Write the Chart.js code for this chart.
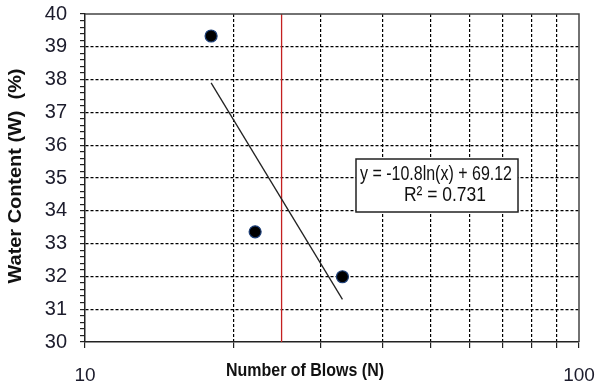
<!DOCTYPE html>
<html>
<head>
<meta charset="utf-8">
<script src="https://cdn.jsdelivr.net/npm/chart.js@4"></script>
<style>
  html, body { margin: 0; padding: 0; background: #fff; }
  #wrap { width: 595px; height: 387px; }
</style>
</head>
<body>
<div id="wrap"><canvas id="chart" width="595" height="387"></canvas></div>
<script>
// data
const blows = [18.0, 22.1, 33.2];
const waterContent = [39.33, 33.36, 31.99];
// trend line ends (y = -10.8ln(x) + 69.12)
const trendX = [18.0, 33.2];
const trendY = [37.9, 31.3];
// 25 blows marker
const refX = [25, 25];
const refY = [30, 40];
const xGridValues = [10, 20, 30, 40, 50, 60, 70, 80, 90, 100];
const xTickLabels = [10, 100];
const trendText = ['y = -10.8ln(x) + 69.12', 'R² = 0.731'];

const toPoints = (xs, ys) => xs.map((x, i) => ({ x: x, y: ys[i] }));
const isWhole = v => Math.abs(v - Math.round(v)) < 1e-6;

// draws text squeezed horizontally (the original uses a narrow font)
function narrowText(ctx, text, x, y, fontSize, weight, width, rotate) {
  ctx.save();
  ctx.font = weight + ' ' + fontSize + 'px "Liberation Sans", Arial, sans-serif';
  const w = ctx.measureText(text).width;
  ctx.translate(x, y);
  if (rotate) ctx.rotate(-Math.PI / 2);
  ctx.scale(width / w, 1);
  ctx.textAlign = 'center';
  ctx.textBaseline = 'middle';
  ctx.fillStyle = '#111';
  ctx.fillText(text, 0, 0);
  ctx.restore();
}

// keep label overhang from pushing the plot area around
function noOverhang(s) {
  s.paddingTop = 0;
  s.paddingBottom = 0;
  s.paddingLeft = 0;
  s.paddingRight = 0;
}

const extras = {
  id: 'extras',
  afterDatasetsDraw(chart) {
    const ctx = chart.ctx;
    const a = chart.chartArea;
    // plot frame
    ctx.save();
    ctx.strokeStyle = '#444';
    ctx.lineWidth = 1.5;
    ctx.beginPath();
    ctx.moveTo(a.left, a.top);
    ctx.lineTo(a.right, a.top);
    ctx.lineTo(a.right, a.bottom);
    ctx.stroke();
    ctx.restore();

    // equation box
    const bx = 356, by = 159, bw = 162, bh = 53;
    ctx.save();
    ctx.fillStyle = '#fff';
    ctx.fillRect(bx, by, bw, bh);
    ctx.strokeStyle = '#222';
    ctx.lineWidth = 1.5;
    ctx.strokeRect(bx, by, bw, bh);
    ctx.restore();
    narrowText(ctx, trendText[0], bx + 80, by + 15, 20, 'normal', 152, false);
    narrowText(ctx, trendText[1], bx + 89, by + 36, 20, 'normal', 82, false);

    // axis titles
    narrowText(ctx, 'Number of Blows (N)', 305, 371, 19, 'bold', 158, false);
    narrowText(ctx, 'Water Content (W)  (%)', 16, 176, 18, 'bold', 215, true);
  }
};

new Chart(document.getElementById('chart'), {
  type: 'scatter',
  data: {
    datasets: [
      {
        label: 'trend',
        data: toPoints(trendX, trendY),
        showLine: true,
        borderColor: '#222',
        borderWidth: 1.3,
        pointRadius: 0,
        order: 2
      },
      {
        label: 'N = 25',
        data: toPoints(refX, refY),
        showLine: true,
        borderColor: '#c42020',
        borderWidth: 1.3,
        pointRadius: 0,
        order: 3
      },
      {
        label: 'data',
        data: toPoints(blows, waterContent),
        pointRadius: 6,
        pointBackgroundColor: '#000',
        pointBorderColor: '#1d3f78',
        pointBorderWidth: 1.2,
        order: 1
      }
    ]
  },
  options: {
    responsive: false,
    animation: false,
    layout: { padding: { top: 14, right: 16, left: 0, bottom: 0 } },
    plugins: {
      legend: { display: false },
      tooltip: { enabled: false }
    },
    scales: {
      x: {
        type: 'logarithmic',
        min: 10,
        max: 100,
        afterBuildTicks: s => { s.ticks = xGridValues.map(v => ({ value: v })); },
        afterFit: s => { s.height = 45; noOverhang(s); },
        border: { color: '#222', width: 1.5, dash: [3, 2] },
        grid: {
          color: c => (c.tick && (c.tick.value === 10 || c.tick.value === 100)) ? 'rgba(0,0,0,0)' : '#000',
          tickColor: '#222',
          tickLength: 6,
          lineWidth: 1.2
        },
        ticks: {
          autoSkip: false,
          maxRotation: 0,
          padding: 16,
          color: '#1c1c2c',
          font: { family: '"Liberation Sans", Arial, sans-serif', size: 19 },
          callback: v => xTickLabels.includes(v) ? String(v) : ''
        }
      },
      y: {
        min: 30,
        max: 40,
        afterFit: s => { s.width = 85; noOverhang(s); },
        border: { color: '#222', width: 1.5, dash: [3, 2] },
        grid: {
          color: c => (c.tick && isWhole(c.tick.value) && c.tick.value > 30 && c.tick.value < 40) ? '#000' : 'rgba(0,0,0,0)',
          tickColor: '#222',
          tickLength: 5,
          lineWidth: 1.2
        },
        ticks: {
          stepSize: 0.2,
          autoSkip: false,
          padding: 13,
          color: '#1c1c2c',
          font: { family: '"Liberation Sans", Arial, sans-serif', size: 20 },
          callback: v => isWhole(v) ? String(Math.round(v)) : ''
        }
      }
    }
  },
  plugins: [extras]
});
</script>
</body>
</html>
